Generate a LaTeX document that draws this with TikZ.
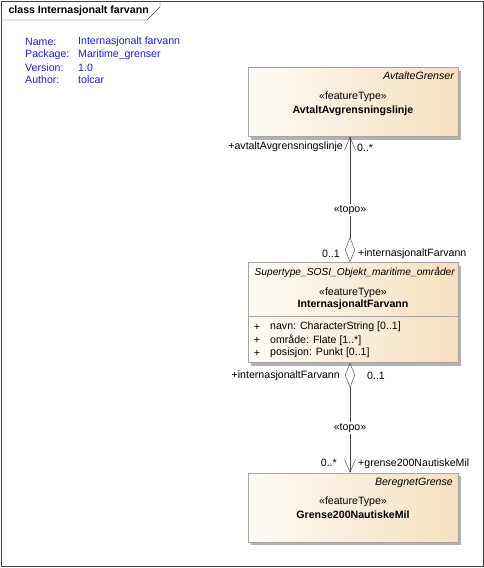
\documentclass[tikz,border=0pt]{standalone}
\usepackage{fontspec}
\setmainfont{Liberation Sans}
\usetikzlibrary{arrows.meta,shadows}
\definecolor{umlblue}{RGB}{30,30,205}
\definecolor{boxleft}{RGB}{253,251,247}
\definecolor{boxright}{RGB}{246,224,190}
\definecolor{boxline}{RGB}{165,165,165}
\definecolor{linegray}{RGB}{64,64,64}
\newcommand{\umlsize}{\fontsize{10.6}{12}\selectfont}

\begin{document}
\begin{tikzpicture}[x=1pt,y=-1pt,font=\umlsize]
        \tikzstyle{cls}=[rectangle,draw=boxline,left color=boxleft,right color=boxright,minimum width=210pt,inner sep=0pt,drop shadow={shadow xshift=3pt,shadow yshift=-3pt,fill=black!30,opacity=1}]
        \tikzstyle{info}=[anchor=west,text=umlblue,inner sep=0pt]
        \tikzstyle{lbl}=[inner sep=1pt]
        \tikzstyle{assoc}=[draw=linegray,thin]
        \useasboundingbox (0,0) rectangle (484,568);
        \begin{scope}
             % frame and tab
             \draw[black!75] (1,1) rectangle (483,566);
             \draw[black!75] (1,20) -- (147,20) -- (160,7) -- (160,1);
             \node[anchor=west,font=\umlsize\bfseries] (title) at (5,11) {class Internasjonalt farvann};

             \node[info] (name) at (25,42) {Name:};
             \node[info] (namev) at (78,42) {Internasjonalt farvann};
             \node[info] (pack) at (25,55) {Package:};
             \node[info] (packv) at (78,55) {Maritime\_grenser};
             \node[info] (vers) at (25,68) {Version:};
             \node[info] (versv) at (78,68) {1.0};
             \node[info] (auth) at (25,80) {Author:};
             \node[info] (authv) at (78,80) {tolcar};

             % classes
             \node[cls,minimum height=69pt] (avtalt) at (353,102) {};
             \node[anchor=east,font=\umlsize\itshape,lbl] (avtaltpkg) at (455,76) {AvtalteGrenser};
             \node[lbl] (avtaltst) at (353,97) {«featureType»};
             \node[lbl,font=\umlsize\bfseries] (avtaltname) at (353,111) {AvtaltAvgrensningslinje};

             \node[cls,minimum height=100pt] (farvann) at (353,312.5) {};
             \node[anchor=east,font=\fontsize{10.2}{12}\selectfont\itshape,lbl] (farvannpkg) at (456,272) {Supertype\_SOSI\_Objekt\_maritime\_områder};
             \node[lbl] (farvannst) at (353,293) {«featureType»};
             \node[lbl,font=\umlsize\bfseries] (farvannname) at (353,305) {InternasjonaltFarvann};
             \draw[boxline] (farvann.west |- 0,316) -- (farvann.east |- 0,316);
             \node[lbl] (p1) at (257,327) {+};
             \node[lbl,anchor=west] (a1) at (269,327) {navn: CharacterString [0..1]};
             \node[lbl] (p2) at (257,340) {+};
             \node[lbl,anchor=west] (a2) at (269,340) {område: Flate [1..*]};
             \node[lbl] (p3) at (257,353) {+};
             \node[lbl,anchor=west] (a3) at (269,353) {posisjon: Punkt [0..1]};

             \node[cls,minimum height=69pt] (grense) at (353,507.5) {};
             \node[anchor=east,font=\umlsize\itshape,lbl] (grensepkg) at (454,483) {BeregnetGrense};
             \node[lbl] (grensest) at (353,502) {«featureType»};
             \node[lbl,font=\umlsize\bfseries] (grensename) at (353,515) {Grense200NautiskeMil};

             % associations
             \coordinate (lx) at (350,0);
             \path[assoc,{Diamond[open,length=25pt,width=10pt]}-{Straight Barb[length=13pt,width=11pt]}] (farvann.north -| lx) -- (avtalt.south -| lx);
             \path[assoc,{Diamond[open,length=25pt,width=10pt]}-{Straight Barb[length=13pt,width=11pt]}] (farvann.south -| lx) -- (grense.north -| lx);
             \node[lbl,fill=white] (topoa) at (350,210) {«topo»};
             \node[lbl,fill=white] (topob) at (350,428) {«topo»};

             \node[lbl,anchor=east] (rolea) at (344,147) {+avtaltAvgrensningslinje};
             \node[lbl,anchor=west] (multa) at (356,148) {0..*};
             \node[lbl,anchor=east] (multb) at (341,254) {0..1};
             \node[lbl,anchor=west] (roleb) at (357,254) {+internasjonaltFarvann};
             \node[lbl,anchor=east] (rolec) at (341,376) {+internasjonaltFarvann};
             \node[lbl,anchor=west] (multc) at (366,376) {0..1};
             \node[lbl,anchor=east] (multd) at (338,463) {0..*};
             \node[lbl,anchor=west] (roled) at (357,464) {+grense200NautiskeMil};
        \end{scope}
\end{tikzpicture}
\end{document}
